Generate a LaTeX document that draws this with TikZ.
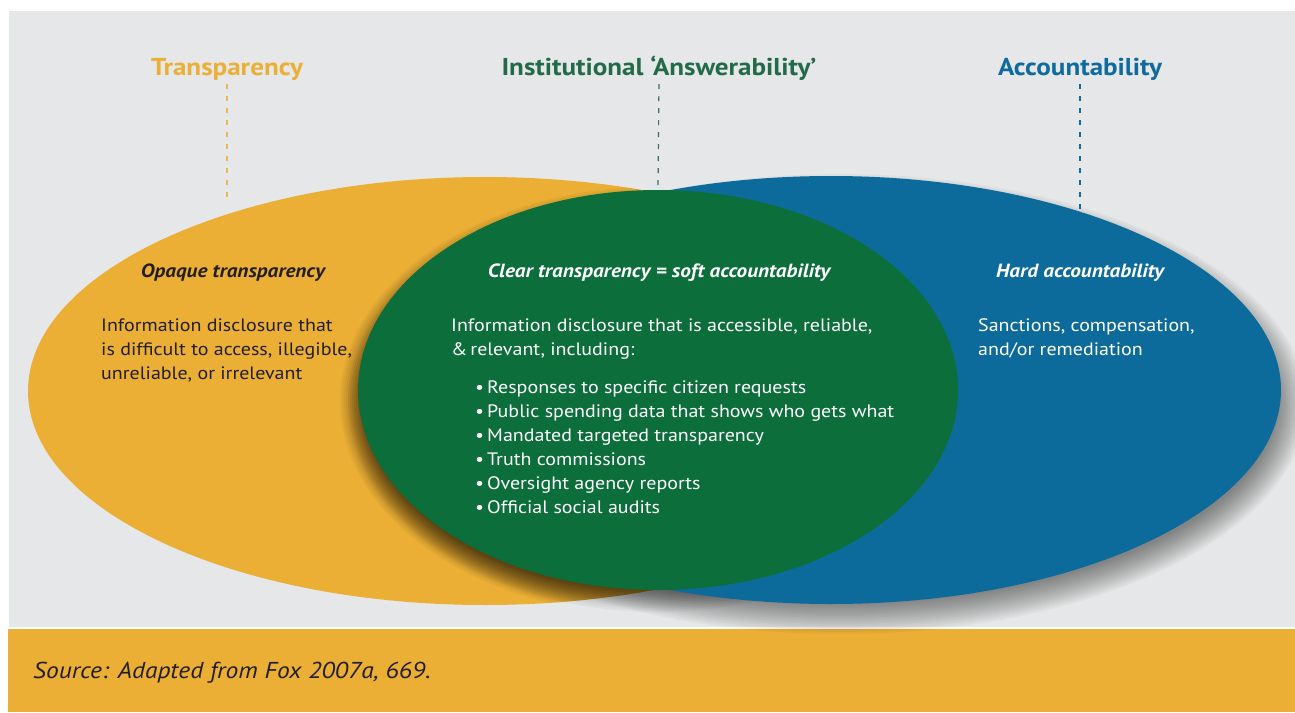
\documentclass[tikz,border=0pt]{standalone}
\usepackage{fontspec}
\setmainfont[FakeStretch=1.11]{PT Sans}
\definecolor{gold}{HTML}{EBAF35}
\definecolor{leaf}{HTML}{0C6E3A}
\definecolor{ocean}{HTML}{0D6B9C}
\definecolor{panel}{HTML}{E6E7E8}
\definecolor{ink}{HTML}{231F20}
\definecolor{titlegreen}{HTML}{236B48}
\definecolor{titleblue}{HTML}{0F6B9E}
\definecolor{dashgold}{HTML}{EDB85A}
\definecolor{dashgreen}{HTML}{3C6E5C}
\tikzset{
  maintitle/.style={font=\bfseries\fontsize{24.4}{28}\selectfont, inner sep=0pt, anchor=base},
  subhead/.style={font=\bfseries\itshape\fontsize{19.1}{24}\selectfont, inner sep=0pt, anchor=base},
  bodytext/.style={font=\fontsize{18}{24}\selectfont, inner sep=0pt, anchor=base west},
  guideline/.style={line width=1.2pt, dash pattern=on 5pt off 7pt, shorten <=4pt},
}
\begin{document}
\begin{tikzpicture}[x=1pt,y=-1pt]
\useasboundingbox (0,0) rectangle (1295,712);
\fill[white] (0,0) rectangle (1295,712);
\fill[panel] (9,11) rectangle (1295,627);
\fill[gold] (8,629) rectangle (1295,712);

% shadow of blue ellipse
\foreach \i in {1,...,16}{
  \fill[black, opacity=0.03] (840,404) ellipse [x radius={450pt-16pt+2*\i pt}, y radius={214pt-16pt+2*\i pt}];
}
% yellow ellipse
\fill[gold] (485,391) ellipse [x radius=457pt, y radius=214pt];
% shadow of green ellipse
\begin{scope}
\clip (485,391) ellipse [x radius=457pt, y radius=214pt];
\foreach \i in {1,...,14}{
  \fill[black, opacity=0.04] (654,401) ellipse [x radius={300pt-14pt+2*\i pt}, y radius={200pt-14pt+2*\i pt}];
}
\end{scope}
\foreach \i in {1,...,10}{
  \fill[black, opacity=0.03] (658,402) ellipse [x radius={300pt-10pt+2*\i pt}, y radius={200pt-10pt+2*\i pt}];
}
% blue ellipse
\fill[ocean] (831,390) ellipse [x radius=450pt, y radius=214pt];
% green ellipse
\fill[leaf] (658,390) ellipse [x radius=300pt, y radius=200pt];

% titles
\node[maintitle, text=gold] (ttrans) at (227,75) {Transparency};
\node[maintitle, text=titlegreen] (tansw) at (659,75) {Institutional ‘Answerability’};
\node[maintitle, text=titleblue] (tacc) at (1080,75) {Accountability};

\coordinate (etrans) at (227,200);
\coordinate (eansw) at (658,190);
\coordinate (eacc) at (1080,212);
\draw[guideline, dashgold] (ttrans.south) -- (etrans);
\draw[guideline, dashgreen] (tansw.south) -- (eansw);
\draw[guideline, titleblue] (tacc.south) -- (eacc);

% yellow region
\node[subhead, text=ink] (sopaque) at (233,277) {Opaque transparency};
\node[bodytext, text=ink] (lb1) at (101,331) {Information disclosure that};
\node[bodytext, text=ink] (lb2) at (101,355) {is difficult to access, illegible,};
\node[bodytext, text=ink] (lb3) at (101,379) {unreliable, or irrelevant};

% green region
\node[subhead, text=white] (sclear) at (659,277) {Clear transparency = soft accountability};
\node[bodytext, text=white] (cb1) at (451,331) {Information disclosure that is accessible, reliable,};
\node[bodytext, text=white] (cb2) at (451,355) {\&\,relevant, including:};
\foreach \t [count=\k] in {Responses to specific citizen requests,Public spending data that shows who gets what,Mandated targeted transparency,Truth commissions,Oversight agency reports,Official social audits}{
  \node[bodytext, text=white] (bul\k) at (475,{393+24*(\k-1)}) {\textbullet\hspace{3pt}\t};
}

% blue region
\node[subhead, text=white] (shard) at (1080,277) {Hard accountability};
\node[bodytext, text=white] (rb1) at (978,331) {Sanctions, compensation,};
\node[bodytext, text=white] (rb2) at (978,355) {and/or remediation};

% source
\node[font=\itshape\fontsize{23}{27}\selectfont, text=ink, inner sep=0pt, anchor=base west] (src) at (33,678) {Source: Adapted from Fox 2007a, 669.};
\end{tikzpicture}
\end{document}
